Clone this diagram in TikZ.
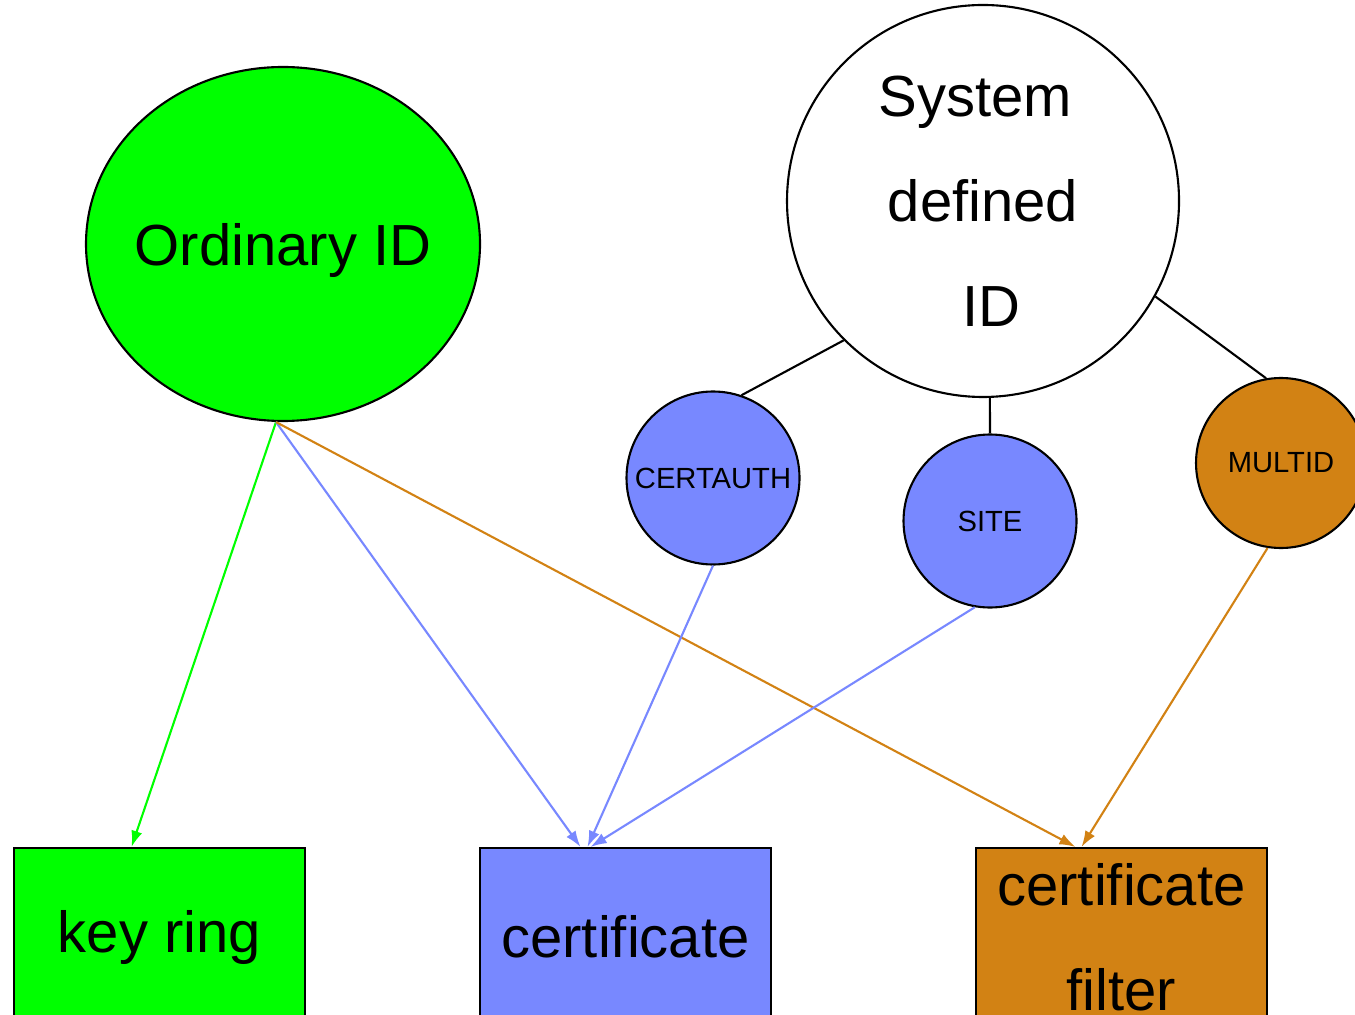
\documentclass[tikz,border=0pt]{standalone}
\usepackage{xcolor}
\usepackage{fontspec}
\setmainfont{Liberation Sans}
\usepackage{tikz}
\usetikzlibrary{shapes.geometric}
\usetikzlibrary{arrows.meta}
\definecolor{idgreen}{RGB}{0,255,0}
\definecolor{idblue}{RGB}{120,136,255}
\definecolor{idorange}{RGB}{210,130,20}
\tikzset{flow/.style = {->,> = {Latex[length=4.6pt,width=3.2pt]}}}

\begin{document}
\begin{tikzpicture}[line width=0.6pt,
    big font/.style={font=\fontsize{16.5}{29.9}\selectfont},
    small node/.style={circle,draw,fill=idblue,minimum size=1.73cm,inner sep=0pt,font=\fontsize{8.3}{10}\selectfont},
    target node/.style={rectangle,draw,minimum width=2.91cm,minimum height=1.78cm,inner sep=0pt,align=center,big font}]
            \clip (0,0) rectangle (13.55,-10.14);

            \node[ellipse,draw,fill=idgreen,minimum width=3.94cm,minimum height=3.54cm,inner xsep=-0.1cm,inner ysep=0pt,big font] (ordinary) at (2.83,-2.44) {\raisebox{-0.07cm}[\height][\depth]{Ordinary ID}};
            \node[circle,draw,fill=white,minimum size=3.92cm,inner sep=0pt,align=center,big font] (system) at (9.83,-2.01) {\hspace*{-0.16cm}System\\defined\\\hspace*{0.16cm}ID};

            \node[small node] (certauth) at (7.13,-4.78) {CERTAUTH};
            \node[small node] (site) at (9.90,-5.21) {SITE};
            \node[small node,fill=idorange,minimum size=1.70cm] (multid) at (12.81,-4.63) {MULTID};

            \node[target node,fill=idgreen] (keyring) at (1.595,-9.37) {key ring};
            \node[target node,fill=idblue] (cert) at (6.255,-9.37) {certificate};
            \node[target node,fill=idorange] (filter) at (11.215,-9.37) {certificate\\filter};

            \draw (system.225) -- (certauth.71);
            \draw (system.272) -- (site.north);
            \draw (system.331) -- (multid.100);

            \draw[flow,idgreen] ([xshift=-0.07cm]ordinary.south) -- ([xshift=-0.28cm]keyring.north);
            \draw[flow,idblue] ([xshift=-0.07cm]ordinary.south) -- ([xshift=-0.45cm]cert.north);
            \draw[flow,idorange] ([xshift=-0.07cm]ordinary.south) -- ([xshift=-0.46cm]filter.north);
            \draw[flow,idblue] (certauth.south) -- ([xshift=-0.38cm]cert.north);
            \draw[flow,idblue] (site.260) -- ([xshift=-0.35cm]cert.north);
            \draw[flow,idorange] (multid.261) -- ([xshift=-0.40cm]filter.north);

        \end{tikzpicture}
\end{document}
